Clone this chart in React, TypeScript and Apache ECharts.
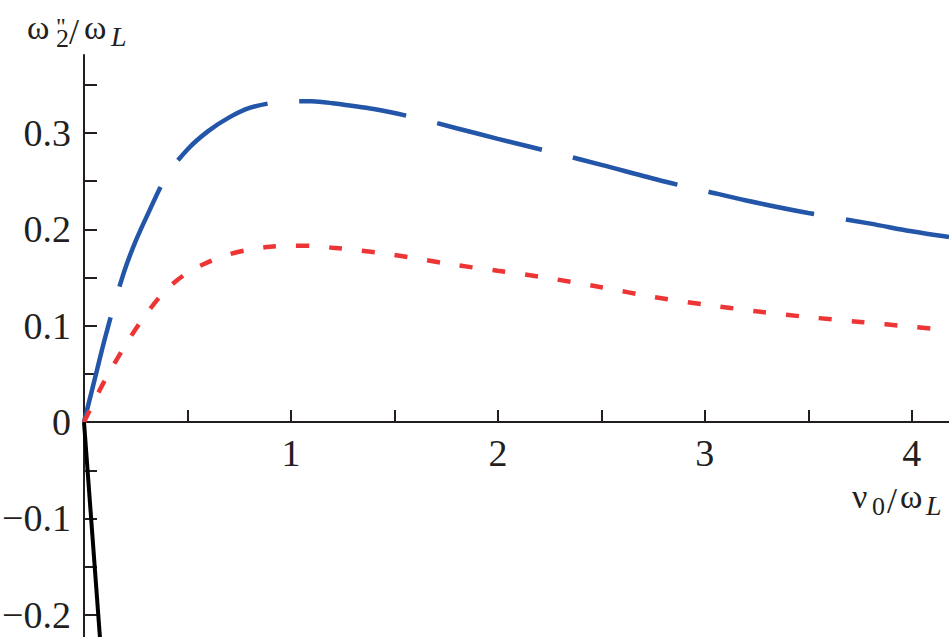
import React, { useEffect, useRef } from "react";
import * as echarts from "echarts";

const blueX = [0, 0.05, 0.1, 0.15, 0.2, 0.25, 0.3, 0.4, 0.5, 0.6, 0.7, 0.8, 0.9, 1.0, 1.1, 1.2, 1.4, 1.6, 1.8, 2.0, 2.3, 2.5, 2.8, 3.0, 3.2, 3.5, 3.8, 4.0, 4.18];
const blueY = [0, 0.043, 0.086, 0.125, 0.16, 0.188, 0.212, 0.256, 0.283, 0.302, 0.316, 0.326, 0.331, 0.333, 0.333, 0.331, 0.325, 0.316, 0.305, 0.294, 0.278, 0.267, 0.25, 0.24, 0.23, 0.217, 0.206, 0.198, 0.192];

const redX = [0, 0.05, 0.1, 0.2, 0.3, 0.4, 0.5, 0.6, 0.7, 0.8, 0.9, 1.0, 1.1, 1.2, 1.3, 1.45, 1.6, 1.8, 2.0, 2.2, 2.5, 2.75, 3.0, 3.25, 3.5, 3.75, 4.0, 4.18];
const redY = [0, 0.022, 0.043, 0.08, 0.112, 0.138, 0.155, 0.166, 0.174, 0.179, 0.182, 0.183, 0.183, 0.181, 0.179, 0.175, 0.17, 0.163, 0.157, 0.151, 0.14, 0.13, 0.122, 0.115, 0.109, 0.104, 0.099, 0.0955];

const blackX = [0, 0.08];
const blackY = [0, -0.232];

const xTickValues = [0.5, 1, 1.5, 2, 2.5, 3, 3.5, 4];
const xLabelValues = [1, 2, 3, 4];
const yTickValues = [-0.2, -0.15, -0.1, -0.05, 0.05, 0.1, 0.15, 0.2, 0.25, 0.3, 0.35];
const yLabelValues = [-0.2, -0.1, 0, 0.1, 0.2, 0.3];

const Y_MIN = -0.223;
const Y_MAX = 0.381;
const GRID_TOP = 55;
const GRID_H = 637 - GRID_TOP;

const FONT = "'Liberation Serif', 'DejaVu Serif', serif";
const INK = "#231f20";

function pairs(xs: number[], ys: number[]) {
  return xs.map((x, i) => [x, ys[i]]);
}

function txt(text: string, x: number, y: number, size: number, italic = false) {
  return {
    type: "text",
    x,
    y,
    style: {
      text,
      fill: INK,
      font: `${italic ? "italic " : ""}${size}px ${FONT}`,
      textAlign: "left",
      textVerticalAlign: "bottom",
    },
  };
}

export default function App() {
  const ref = useRef<HTMLDivElement>(null);
  useEffect(() => {
    document.body.style.margin = "0";
    if (!ref.current) return;
    const chart = echarts.init(ref.current, null, { renderer: "svg" });
    // distance from the grid bottom up to the y = 0 line
    const zeroOffset = (-Y_MIN / (Y_MAX - Y_MIN)) * GRID_H;
    chart.setOption({
      animation: false,
      backgroundColor: "#ffffff",
      grid: { left: 84, right: 0, top: GRID_TOP, bottom: 0, containLabel: false, outerBoundsMode: "none" },
      xAxis: {
        type: "value",
        position: "bottom",
        offset: -zeroOffset,
        min: 0,
        max: 4.18,
        interval: 0.5,
        splitLine: { show: false },
        axisLine: { show: true, onZero: false, lineStyle: { color: INK, width: 2 } },
        axisTick: { show: true, inside: true, length: 12, customValues: xTickValues, lineStyle: { color: INK, width: 2 } },
        axisLabel: {
          show: true,
          customValues: xLabelValues,
          margin: 12,
          color: INK,
          fontFamily: FONT,
          fontSize: 38,
          formatter: (v: number) => String(v),
        },
      },
      yAxis: {
        type: "value",
        min: Y_MIN,
        max: Y_MAX,
        splitLine: { show: false },
        axisLine: { show: true, onZero: false, lineStyle: { color: INK, width: 2 } },
        axisTick: { show: true, inside: true, length: 13, customValues: yTickValues, lineStyle: { color: INK, width: 2 } },
        axisLabel: {
          show: true,
          customValues: yLabelValues,
          margin: 13,
          color: INK,
          fontFamily: FONT,
          fontSize: 38,
          formatter: (v: number) => {
            if (Math.abs(v) < 1e-9) return "0";
            const s = Math.abs(v).toFixed(1);
            return v < 0 ? "\u2212" + s : s;
          },
        },
      },
      series: [
        {
          type: "line",
          data: pairs(blueX, blueY),
          showSymbol: false,
          smooth: 0.3,
          lineStyle: { color: "#2356a8", width: 4.5, type: [108, 32], cap: "butt" },
          z: 3,
        },
        {
          type: "line",
          data: pairs(redX, redY),
          showSymbol: false,
          smooth: 0.3,
          lineStyle: { color: "#ee3535", width: 4.5, type: [13, 20], cap: "butt" },
          z: 3,
        },
        {
          type: "line",
          data: pairs(blackX, blackY),
          showSymbol: false,
          lineStyle: { color: "#000000", width: 4 },
          z: 4,
        },
      ],
      graphic: [
        txt("\u03c9", 27, 44, 34),
        txt("\"", 56, 38, 24),
        txt("2", 56, 51, 26),
        txt("/", 69, 50, 36),
        txt("\u03c9", 84, 44, 34),
        txt("L", 111, 50, 28, true),
        txt("\u03bd", 852, 513, 34),
        txt("0", 872, 519, 26),
        txt("/", 887, 519, 36),
        txt("\u03c9", 900, 513, 34),
        txt("L", 926, 519, 28, true),
      ],
    });
    return () => chart.dispose();
  }, []);
  return <div ref={ref} style={{ width: 949, height: 637 }} />;
}
